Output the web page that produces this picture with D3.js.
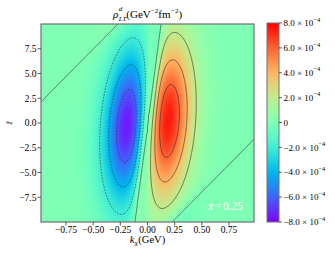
<!DOCTYPE html>
<html>
<head>
<meta charset="utf-8">
<script src="https://cdn.jsdelivr.net/npm/d3@7"></script>
<style>
  html, body { margin: 0; padding: 0; background: #fff; }
  svg text { font-family: "Liberation Serif", "Times New Roman", serif; }
</style>
</head>
<body>
<script>
// axis ranges and ticks
const kxDomain = [-0.98, 0.98];
const zDomain = [-10, 10];
const kxTicks = [-0.75, -0.5, -0.25, 0, 0.25, 0.5, 0.75];
const zTicks = [-7.5, -5, -2.5, 0, 2.5, 5, 7.5];
const cbTicks = [-8e-4, -6e-4, -4e-4, -2e-4, 0, 2e-4, 4e-4, 6e-4, 8e-4];
const cbDomain = [-8e-4, 8e-4];
const levels = [-6e-4, -4e-4, -2e-4, 0, 2e-4, 4e-4, 6e-4];

// shape of the density
const peak = [7.5e-4];            // lobe amplitude
const lobeSigma = [0.19, 5.5];    // width in kx, width in z
const nodeTilt = [0.012];         // kx shift of the central node per unit z
const lobeTilt = [0.005];         // kx shift of the lobe envelope per unit z
const lobeShiftZ = [0.25];        // z offset of the lobes
const outerNodes = [-1.18, 1.12]; // far sign changes, in kx - slope*z
const outerSlope = [0.09];

function rho(kx, z) {
  const u = kx - nodeTilt[0] * z;
  const e = kx - lobeTilt[0] * z;
  const v = z - lobeShiftZ[0] * e / lobeSigma[0];
  const h = Math.abs(e / lobeSigma[0]) * Math.exp(0.5 - e * e / (2 * lobeSigma[0] ** 2) - v * v / (2 * lobeSigma[1] ** 2));
  const w = kx - outerSlope[0] * z;
  const p = w < 0 ? Math.tanh((w - outerNodes[0]) / 0.1) : Math.tanh((outerNodes[1] - w) / 0.1);
  return peak[0] * Math.tanh(u / 0.04) * h * p;
}

function rainbow(t) {
  t = Math.max(0, Math.min(1, t));
  const c = v => Math.round(255 * Math.max(0, Math.min(1, v)));
  return [c(Math.abs(2 * t - 0.5)), c(Math.sin(Math.PI * t)), c(Math.cos(Math.PI * t / 2))];
}

const W = 335, H = 258;
const m = { left: 41, right: 254, top: 24, bottom: 222 };

const x = d3.scaleLinear().domain(kxDomain).range([m.left, m.right]);
const y = d3.scaleLinear().domain(zDomain).range([m.bottom, m.top]);
const cval = d3.scaleLinear().domain(cbDomain).range([0, 1]).clamp(true);

const svg = d3.select("body").append("svg").attr("width", W).attr("height", H)
  .attr("font-family", "'Liberation Serif', 'Times New Roman', serif");

// heat map
const pw = m.right - m.left, ph = m.bottom - m.top;
const canvas = document.createElement("canvas");
canvas.width = pw; canvas.height = ph;
const ctx = canvas.getContext("2d");
const img = ctx.createImageData(pw, ph);
for (let j = 0; j < ph; j++) {
  for (let i = 0; i < pw; i++) {
    const v = rho(x.invert(m.left + i + 0.5), y.invert(m.top + j + 0.5));
    const [r, g, b] = rainbow(cval(v));
    const k = 4 * (j * pw + i);
    img.data[k] = r; img.data[k + 1] = g; img.data[k + 2] = b; img.data[k + 3] = 255;
  }
}
ctx.putImageData(img, 0, 0);
svg.append("image")
  .attr("x", m.left).attr("y", m.top)
  .attr("width", pw).attr("height", ph)
  .attr("preserveAspectRatio", "none")
  .attr("href", canvas.toDataURL());

// contours on a grid a bit larger than the frame, clipped
svg.append("clipPath").attr("id", "plotclip")
  .append("rect").attr("x", m.left).attr("y", m.top).attr("width", pw).attr("height", ph);

const gx0 = -1.15, gx1 = 1.15, gz0 = -11.5, gz1 = 11.5;
const nx = 280, nz = 280;
const grid = new Float64Array(nx * nz);
for (let j = 0; j < nz; j++) {
  for (let i = 0; i < nx; i++) {
    const kx = gx0 + (gx1 - gx0) * i / (nx - 1);
    const z = gz1 - (gz1 - gz0) * j / (nz - 1);
    grid[j * nx + i] = rho(kx, z);
  }
}
const contours = d3.contours().size([nx, nz]).thresholds(levels)(grid);
const proj = d3.geoTransform({
  point: function (px, py) {
    const kx = gx0 + (gx1 - gx0) * px / (nx - 1);
    const z = gz1 - (gz1 - gz0) * py / (nz - 1);
    this.stream.point(x(kx), y(z));
  }
});
const path = d3.geoPath(proj);
svg.append("g").attr("clip-path", "url(#plotclip)")
  .selectAll("path")
  .data(contours)
  .join("path")
  .attr("d", path)
  .attr("fill", "none")
  .attr("stroke", "#2a2a2a")
  .attr("stroke-width", 0.6)
  .attr("stroke-dasharray", d => d.value < 0 ? "1.6,1.4" : null);

// frame
svg.append("rect")
  .attr("x", m.left).attr("y", m.top).attr("width", pw).attr("height", ph)
  .attr("fill", "none").attr("stroke", "#707070").attr("stroke-width", 1.2);

// x axis
const xa = svg.append("g");
kxTicks.forEach(t => {
  xa.append("line").attr("x1", x(t)).attr("x2", x(t)).attr("y1", m.bottom).attr("y2", m.bottom + 3.5)
    .attr("stroke", "#333").attr("stroke-width", 0.8);
  xa.append("text").attr("x", x(t)).attr("y", 233).attr("text-anchor", "middle")
    .attr("font-size", 9.5).text(d3.format(".2f")(t).replace("-", "\u2212"));
});

// y axis
const ya = svg.append("g");
zTicks.forEach(t => {
  ya.append("line").attr("x1", m.left - 3.5).attr("x2", m.left).attr("y1", y(t)).attr("y2", y(t))
    .attr("stroke", "#333").attr("stroke-width", 0.8);
  ya.append("text").attr("x", 36.5).attr("y", y(t) + 3.3).attr("text-anchor", "end")
    .attr("font-size", 9.5).text(d3.format(".1f")(t));
});

// rich text helper: parts placed one after another
function rich(x0, y0, parts, anchor) {
  const g = svg.append("g");
  let cx = 0, held = null;
  parts.forEach(p => {
    const t = g.append("text").attr("x", cx).attr("y", p.dy || 0)
      .attr("font-size", p.size).attr("font-style", p.italic ? "italic" : null)
      .attr("fill", p.fill || "#000").text(p.t);
    const w = t.node().getComputedTextLength();
    if (p.hold) { held = w; return; }
    cx += held != null ? Math.max(w, held) : w;
    held = null;
    if (p.gap) cx += p.gap;
  });
  const shift = anchor === "middle" ? -cx / 2 : anchor === "end" ? -cx : 0;
  g.attr("transform", `translate(${x0 + shift},${y0})`);
  return g;
}

// title
rich((m.left + m.right) / 2, 18, [
  { t: "\u03c1", size: 11, italic: true, gap: 0.5 },
  { t: "d", size: 7, italic: true, dy: -7, hold: true },
  { t: "LT", size: 7, italic: true, dy: 3 },
  { t: "(GeV", size: 11 },
  { t: "\u22122", size: 7, dy: -5 },
  { t: "fm", size: 11, gap: 0.5 },
  { t: "\u22122", size: 7, dy: -5 },
  { t: ")", size: 11 }
], "middle");

// x label
rich((m.left + m.right) / 2, 243, [
  { t: "k", size: 10.5, italic: true },
  { t: "x", size: 7.5, italic: true, dy: 2.5, gap: 0.5 },
  { t: "(GeV)", size: 10.5 }
], "middle");

// y label
svg.append("text")
  .attr("transform", `translate(12,${y(0)}) rotate(-90)`)
  .attr("text-anchor", "middle")
  .attr("font-size", 8).attr("font-style", "italic")
  .text("z\u0303");

// in-plot note
rich(243, 209.5, [
  { t: "x", size: 11.5, italic: true, fill: "#fff", gap: 1.5 },
  { t: "=", size: 11.5, fill: "#fff", gap: 1.5 },
  { t: "0.25", size: 11.5, fill: "#fff" }
], "end");

// colorbar
const cb = { x: 267, w: 12, top: 23, bottom: 222 };
const grad = svg.append("defs").append("linearGradient").attr("id", "cbgrad")
  .attr("x1", 0).attr("y1", 1).attr("x2", 0).attr("y2", 0);
d3.range(0, 1.0001, 0.02).forEach(t => {
  const [r, g, b] = rainbow(t);
  grad.append("stop").attr("offset", t).attr("stop-color", `rgb(${r},${g},${b})`);
});
svg.append("rect").attr("x", cb.x).attr("y", cb.top).attr("width", cb.w).attr("height", cb.bottom - cb.top)
  .attr("fill", "url(#cbgrad)").attr("stroke", "#707070").attr("stroke-width", 1);
const cy = d3.scaleLinear().domain(cbDomain).range([cb.bottom, cb.top]);
cbTicks.forEach(t => {
  svg.append("line").attr("x1", cb.x + cb.w).attr("x2", cb.x + cb.w + 3).attr("y1", cy(t)).attr("y2", cy(t))
    .attr("stroke", "#333").attr("stroke-width", 0.8);
  if (t === 0) {
    rich(cb.x + cb.w + 4.5, cy(0) + 3.2, [{ t: "0", size: 9 }], "start");
  } else {
    const mant = d3.format(".1f")(t / 1e-4);
    rich(cb.x + cb.w + 4.5, cy(t) + 3.2, [
      { t: `${mant} \u00d7 10`, size: 9 },
      { t: "\u22124", size: 6.5, dy: -4.5 }
    ], "start");
  }
});
</script>
</body>
</html>
